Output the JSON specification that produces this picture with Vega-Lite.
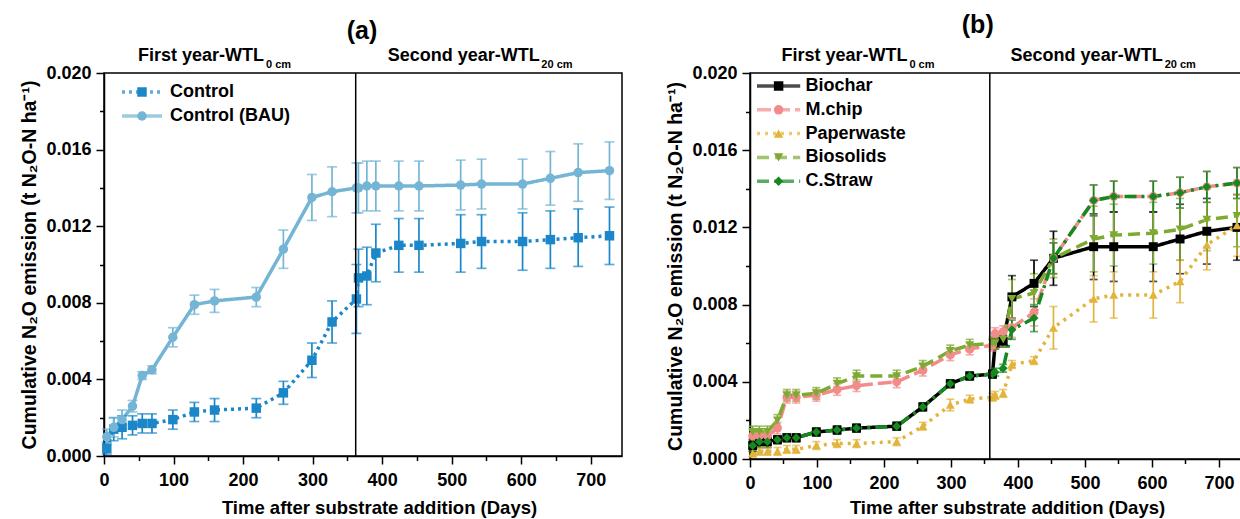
{
  "$schema": "https://vega.github.io/schema/vega-lite/v6.json",
  "padding": {"left": 19, "top": 12, "right": 0, "bottom": 0},
  "spacing": 42,
  "datasets": {
    "a": [
      {"series": "Control", "day": 4, "y": 0.0004, "err": 0.0003},
      {"series": "Control", "day": 14, "y": 0.0014, "err": 0.0006},
      {"series": "Control", "day": 26, "y": 0.0015, "err": 0.0006},
      {"series": "Control", "day": 41, "y": 0.0016, "err": 0.0005},
      {"series": "Control", "day": 55, "y": 0.0017, "err": 0.0005},
      {"series": "Control", "day": 69, "y": 0.0017, "err": 0.0005},
      {"series": "Control", "day": 99, "y": 0.0019, "err": 0.0005},
      {"series": "Control", "day": 130, "y": 0.0023, "err": 0.0005},
      {"series": "Control", "day": 159, "y": 0.0024, "err": 0.0006},
      {"series": "Control", "day": 219, "y": 0.0025, "err": 0.0005},
      {"series": "Control", "day": 258, "y": 0.0033, "err": 0.0006},
      {"series": "Control", "day": 299, "y": 0.005, "err": 0.0009},
      {"series": "Control", "day": 328, "y": 0.007, "err": 0.0011},
      {"series": "Control", "day": 363, "y": 0.0082, "err": 0.0018},
      {"series": "Control", "day": 366, "y": 0.0093, "err": 0.0015},
      {"series": "Control", "day": 378, "y": 0.0094, "err": 0.0015},
      {"series": "Control", "day": 391, "y": 0.0106, "err": 0.0015},
      {"series": "Control", "day": 424, "y": 0.011, "err": 0.0014},
      {"series": "Control", "day": 453, "y": 0.011, "err": 0.0014},
      {"series": "Control", "day": 513, "y": 0.0111, "err": 0.0015},
      {"series": "Control", "day": 543, "y": 0.0112, "err": 0.0014},
      {"series": "Control", "day": 602, "y": 0.0112, "err": 0.0015},
      {"series": "Control", "day": 642, "y": 0.0113, "err": 0.0015},
      {"series": "Control", "day": 682, "y": 0.0114, "err": 0.0015},
      {"series": "Control", "day": 727, "y": 0.0115, "err": 0.0015},
      {"series": "Control (BAU)", "day": 4, "y": 0.001, "err": 0.0004},
      {"series": "Control (BAU)", "day": 14, "y": 0.0015, "err": 0.0005},
      {"series": "Control (BAU)", "day": 26, "y": 0.0019, "err": 0.0005},
      {"series": "Control (BAU)", "day": 41, "y": 0.0026, "err": 0.0003},
      {"series": "Control (BAU)", "day": 55, "y": 0.0042, "err": 0.0002},
      {"series": "Control (BAU)", "day": 69, "y": 0.0045, "err": 0.0002},
      {"series": "Control (BAU)", "day": 99, "y": 0.0062, "err": 0.0005},
      {"series": "Control (BAU)", "day": 130, "y": 0.0079, "err": 0.0005},
      {"series": "Control (BAU)", "day": 159, "y": 0.0081, "err": 0.0006},
      {"series": "Control (BAU)", "day": 219, "y": 0.0083, "err": 0.0005},
      {"series": "Control (BAU)", "day": 258, "y": 0.0108, "err": 0.001},
      {"series": "Control (BAU)", "day": 299, "y": 0.0135, "err": 0.0012},
      {"series": "Control (BAU)", "day": 328, "y": 0.0138, "err": 0.0013},
      {"series": "Control (BAU)", "day": 363, "y": 0.014, "err": 0.0013},
      {"series": "Control (BAU)", "day": 366, "y": 0.014, "err": 0.0013},
      {"series": "Control (BAU)", "day": 378, "y": 0.0141, "err": 0.0013},
      {"series": "Control (BAU)", "day": 391, "y": 0.0141, "err": 0.0013},
      {"series": "Control (BAU)", "day": 424, "y": 0.0141, "err": 0.0013},
      {"series": "Control (BAU)", "day": 453, "y": 0.0141, "err": 0.0013},
      {"series": "Control (BAU)", "day": 513, "y": 0.01415, "err": 0.0013},
      {"series": "Control (BAU)", "day": 543, "y": 0.0142, "err": 0.0013},
      {"series": "Control (BAU)", "day": 602, "y": 0.0142, "err": 0.0013},
      {"series": "Control (BAU)", "day": 642, "y": 0.0145, "err": 0.0014},
      {"series": "Control (BAU)", "day": 682, "y": 0.0148, "err": 0.0015},
      {"series": "Control (BAU)", "day": 727, "y": 0.0149, "err": 0.0015}
    ],
    "b": [
      {"series": "Biochar", "day": 4, "y": 0.0007, "err": 0.0003},
      {"series": "Biochar", "day": 14, "y": 0.0009, "err": 0.0003},
      {"series": "Biochar", "day": 26, "y": 0.0009, "err": 0.0003},
      {"series": "Biochar", "day": 41, "y": 0.001, "err": 0.0002},
      {"series": "Biochar", "day": 55, "y": 0.0011, "err": 0.0002},
      {"series": "Biochar", "day": 69, "y": 0.0011, "err": 0.0002},
      {"series": "Biochar", "day": 99, "y": 0.0014, "err": 0.0002},
      {"series": "Biochar", "day": 130, "y": 0.0015, "err": 0.0002},
      {"series": "Biochar", "day": 159, "y": 0.0016, "err": 0.0002},
      {"series": "Biochar", "day": 219, "y": 0.0017, "err": 0.0002},
      {"series": "Biochar", "day": 258, "y": 0.0027, "err": 0.0002},
      {"series": "Biochar", "day": 299, "y": 0.0039, "err": 0.0002},
      {"series": "Biochar", "day": 328, "y": 0.0043, "err": 0.0002},
      {"series": "Biochar", "day": 362, "y": 0.0044, "err": 0.0002},
      {"series": "Biochar", "day": 366, "y": 0.006, "err": 0.0003},
      {"series": "Biochar", "day": 378, "y": 0.0061, "err": 0.0003},
      {"series": "Biochar", "day": 391, "y": 0.0084, "err": 0.0011},
      {"series": "Biochar", "day": 424, "y": 0.0091, "err": 0.0012},
      {"series": "Biochar", "day": 453, "y": 0.0104, "err": 0.0014},
      {"series": "Biochar", "day": 513, "y": 0.011, "err": 0.0017},
      {"series": "Biochar", "day": 543, "y": 0.011, "err": 0.0018},
      {"series": "Biochar", "day": 602, "y": 0.011, "err": 0.0018},
      {"series": "Biochar", "day": 642, "y": 0.0114, "err": 0.0018},
      {"series": "Biochar", "day": 682, "y": 0.0118, "err": 0.0017},
      {"series": "Biochar", "day": 727, "y": 0.012, "err": 0.0017},
      {"series": "M.chip", "day": 4, "y": 0.0012, "err": 0.0003},
      {"series": "M.chip", "day": 14, "y": 0.0012, "err": 0.0003},
      {"series": "M.chip", "day": 26, "y": 0.0012, "err": 0.0003},
      {"series": "M.chip", "day": 41, "y": 0.0016, "err": 0.0003},
      {"series": "M.chip", "day": 55, "y": 0.0032, "err": 0.0003},
      {"series": "M.chip", "day": 69, "y": 0.0032, "err": 0.0003},
      {"series": "M.chip", "day": 99, "y": 0.0033, "err": 0.0003},
      {"series": "M.chip", "day": 130, "y": 0.0036, "err": 0.0003},
      {"series": "M.chip", "day": 159, "y": 0.0038, "err": 0.0003},
      {"series": "M.chip", "day": 219, "y": 0.004, "err": 0.0003},
      {"series": "M.chip", "day": 258, "y": 0.0046, "err": 0.0003},
      {"series": "M.chip", "day": 299, "y": 0.0054, "err": 0.0003},
      {"series": "M.chip", "day": 328, "y": 0.0057, "err": 0.0003},
      {"series": "M.chip", "day": 362, "y": 0.0059, "err": 0.0003},
      {"series": "M.chip", "day": 366, "y": 0.0065, "err": 0.0003},
      {"series": "M.chip", "day": 378, "y": 0.0066, "err": 0.0003},
      {"series": "M.chip", "day": 391, "y": 0.0068, "err": 0.0005},
      {"series": "M.chip", "day": 424, "y": 0.0076, "err": 0.0007},
      {"series": "M.chip", "day": 453, "y": 0.0104, "err": 0.0008},
      {"series": "M.chip", "day": 513, "y": 0.0134, "err": 0.0008},
      {"series": "M.chip", "day": 543, "y": 0.0136, "err": 0.0008},
      {"series": "M.chip", "day": 602, "y": 0.0136, "err": 0.0008},
      {"series": "M.chip", "day": 642, "y": 0.0138, "err": 0.0008},
      {"series": "M.chip", "day": 682, "y": 0.0141, "err": 0.0008},
      {"series": "M.chip", "day": 727, "y": 0.0143, "err": 0.0008},
      {"series": "Paperwaste", "day": 4, "y": 0.0003, "err": 0.0002},
      {"series": "Paperwaste", "day": 14, "y": 0.0004, "err": 0.0002},
      {"series": "Paperwaste", "day": 26, "y": 0.0004, "err": 0.0002},
      {"series": "Paperwaste", "day": 41, "y": 0.0004, "err": 0.0002},
      {"series": "Paperwaste", "day": 55, "y": 0.0005, "err": 0.0002},
      {"series": "Paperwaste", "day": 69, "y": 0.0005, "err": 0.0002},
      {"series": "Paperwaste", "day": 99, "y": 0.0007, "err": 0.0002},
      {"series": "Paperwaste", "day": 130, "y": 0.0008, "err": 0.0002},
      {"series": "Paperwaste", "day": 159, "y": 0.0008, "err": 0.0002},
      {"series": "Paperwaste", "day": 219, "y": 0.0009, "err": 0.0002},
      {"series": "Paperwaste", "day": 258, "y": 0.0017, "err": 0.0002},
      {"series": "Paperwaste", "day": 299, "y": 0.0028, "err": 0.0003},
      {"series": "Paperwaste", "day": 328, "y": 0.0031, "err": 0.0002},
      {"series": "Paperwaste", "day": 362, "y": 0.0032, "err": 0.0002},
      {"series": "Paperwaste", "day": 366, "y": 0.0033, "err": 0.0002},
      {"series": "Paperwaste", "day": 378, "y": 0.0034, "err": 0.0002},
      {"series": "Paperwaste", "day": 391, "y": 0.0049, "err": 0.0002},
      {"series": "Paperwaste", "day": 424, "y": 0.0051, "err": 0.0002},
      {"series": "Paperwaste", "day": 453, "y": 0.0068, "err": 0.0011},
      {"series": "Paperwaste", "day": 513, "y": 0.0083, "err": 0.0012},
      {"series": "Paperwaste", "day": 543, "y": 0.0085, "err": 0.0012},
      {"series": "Paperwaste", "day": 602, "y": 0.0085, "err": 0.0012},
      {"series": "Paperwaste", "day": 642, "y": 0.0092, "err": 0.0011},
      {"series": "Paperwaste", "day": 682, "y": 0.0111, "err": 0.0013},
      {"series": "Paperwaste", "day": 727, "y": 0.0121, "err": 0.0016},
      {"series": "Biosolids", "day": 4, "y": 0.0014, "err": 0.0003},
      {"series": "Biosolids", "day": 14, "y": 0.0014, "err": 0.0003},
      {"series": "Biosolids", "day": 26, "y": 0.0014, "err": 0.0003},
      {"series": "Biosolids", "day": 41, "y": 0.002, "err": 0.0003},
      {"series": "Biosolids", "day": 55, "y": 0.0033, "err": 0.0003},
      {"series": "Biosolids", "day": 69, "y": 0.0033, "err": 0.0003},
      {"series": "Biosolids", "day": 99, "y": 0.0034, "err": 0.0003},
      {"series": "Biosolids", "day": 130, "y": 0.0039, "err": 0.0003},
      {"series": "Biosolids", "day": 159, "y": 0.0043, "err": 0.0003},
      {"series": "Biosolids", "day": 219, "y": 0.0043, "err": 0.0003},
      {"series": "Biosolids", "day": 258, "y": 0.0048, "err": 0.0003},
      {"series": "Biosolids", "day": 299, "y": 0.0056, "err": 0.0003},
      {"series": "Biosolids", "day": 328, "y": 0.0059, "err": 0.0003},
      {"series": "Biosolids", "day": 362, "y": 0.006, "err": 0.0003},
      {"series": "Biosolids", "day": 366, "y": 0.006, "err": 0.0003},
      {"series": "Biosolids", "day": 378, "y": 0.0062, "err": 0.0004},
      {"series": "Biosolids", "day": 391, "y": 0.0083, "err": 0.001},
      {"series": "Biosolids", "day": 424, "y": 0.0086, "err": 0.001},
      {"series": "Biosolids", "day": 453, "y": 0.0104, "err": 0.001},
      {"series": "Biosolids", "day": 513, "y": 0.0114, "err": 0.0017},
      {"series": "Biosolids", "day": 543, "y": 0.0116, "err": 0.0016},
      {"series": "Biosolids", "day": 602, "y": 0.0117, "err": 0.0016},
      {"series": "Biosolids", "day": 642, "y": 0.0119, "err": 0.0016},
      {"series": "Biosolids", "day": 682, "y": 0.0124, "err": 0.0016},
      {"series": "Biosolids", "day": 727, "y": 0.0126, "err": 0.0016},
      {"series": "C.Straw", "day": 4, "y": 0.0007, "err": 0.0003},
      {"series": "C.Straw", "day": 14, "y": 0.0009, "err": 0.0003},
      {"series": "C.Straw", "day": 26, "y": 0.0009, "err": 0.0003},
      {"series": "C.Straw", "day": 41, "y": 0.001, "err": 0.0002},
      {"series": "C.Straw", "day": 55, "y": 0.0011, "err": 0.0002},
      {"series": "C.Straw", "day": 69, "y": 0.0011, "err": 0.0002},
      {"series": "C.Straw", "day": 99, "y": 0.0014, "err": 0.0002},
      {"series": "C.Straw", "day": 130, "y": 0.0015, "err": 0.0002},
      {"series": "C.Straw", "day": 159, "y": 0.0016, "err": 0.0002},
      {"series": "C.Straw", "day": 219, "y": 0.0017, "err": 0.0002},
      {"series": "C.Straw", "day": 258, "y": 0.0027, "err": 0.0002},
      {"series": "C.Straw", "day": 299, "y": 0.0039, "err": 0.0002},
      {"series": "C.Straw", "day": 328, "y": 0.0043, "err": 0.0002},
      {"series": "C.Straw", "day": 362, "y": 0.0044, "err": 0.0002},
      {"series": "C.Straw", "day": 366, "y": 0.0045, "err": 0.0002},
      {"series": "C.Straw", "day": 378, "y": 0.0047, "err": 0.0002},
      {"series": "C.Straw", "day": 391, "y": 0.0067, "err": 0.0005},
      {"series": "C.Straw", "day": 424, "y": 0.0073, "err": 0.0007},
      {"series": "C.Straw", "day": 453, "y": 0.0104, "err": 0.0008},
      {"series": "C.Straw", "day": 513, "y": 0.0134, "err": 0.0008},
      {"series": "C.Straw", "day": 543, "y": 0.0136, "err": 0.0008},
      {"series": "C.Straw", "day": 602, "y": 0.0136, "err": 0.0008},
      {"series": "C.Straw", "day": 642, "y": 0.0138, "err": 0.0008},
      {"series": "C.Straw", "day": 682, "y": 0.0141, "err": 0.0008},
      {"series": "C.Straw", "day": 727, "y": 0.0143, "err": 0.0008}
    ]
  },
  "resolve": {
    "scale": {"color": "independent", "fill": "independent", "shape": "independent", "strokeDash": "independent"},
    "legend": {"color": "independent", "fill": "independent", "shape": "independent", "strokeDash": "independent"}
  },
  "hconcat": [
    {
      "width": 518,
      "height": 383,
      "data": {"name": "a"},
      "resolve": {"axis": {"x": "independent", "y": "independent"}},
      "layer": [
        {
          "mark": {"type": "line", "strokeWidth": 3.5},
          "encoding": {
            "x": {"field": "day", "type": "quantitative", "title": "Time after substrate addition (Days)", "scale": {"domain": [0, 745], "nice": false, "zero": false},
                  "axis": {"orient": "bottom", "values": [0, 100, 200, 300, 400, 500, 600, 700], "labelPadding": 7, "titlePadding": 9, "titleX": 275}},
            "y": {"field": "y", "type": "quantitative", "title": "Cumulative N₂O emission (t N₂O-N ha⁻¹)", "scale": {"domain": [0, 0.02], "nice": false},
                  "axis": {"orient": "left", "values": [0, 0.004, 0.008, 0.012, 0.016, 0.02], "format": ".3f"}},
            "color": {"field": "series", "type": "nominal",
                      "scale": {"domain": ["Control", "Control (BAU)"], "range": ["#1b87c9", "#74b5d5"]},
                      "legend": {"title": null, "orient": "none", "legendX": 18, "legendY": 10, "direction": "vertical", "padding": 0,
                                 "symbolType": "M-5,0H5", "symbolSize": 64, "symbolStrokeWidth": 3.5, "symbolOffset": 11,
                                 "labelOffset": 19, "labelFontSize": 18, "labelFontWeight": "bold", "labelColor": "black", "rowPadding": 6}},
            "strokeDash": {"field": "series", "type": "nominal",
                           "scale": {"domain": ["Control", "Control (BAU)"], "range": [[3, 4], [1, 0]]},
                           "legend": {"title": null, "orient": "none", "legendX": 18, "legendY": 10, "direction": "vertical", "padding": 0,
                                      "symbolType": "M-5,0H5", "symbolSize": 64, "symbolStrokeWidth": 3.5, "symbolOffset": 11,
                                      "labelOffset": 19, "labelFontSize": 18, "labelFontWeight": "bold", "labelColor": "black", "rowPadding": 6}}
          }
        },
        {
          "mark": {"type": "errorbar", "ticks": true, "size": 10, "thickness": 1.7},
          "encoding": {
            "x": {"field": "day", "type": "quantitative", "axis": null},
            "y": {"field": "y", "type": "quantitative", "axis": null},
            "yError": {"field": "err"},
            "color": {"field": "series", "type": "nominal"}
          }
        },
        {
          "mark": {"type": "point", "filled": true, "opacity": 1, "size": 90},
          "encoding": {
            "x": {"field": "day", "type": "quantitative", "axis": null},
            "y": {"field": "y", "type": "quantitative", "axis": null},
            "fill": {"field": "series", "type": "nominal", "sort": null,
                     "scale": {"range": ["#1b87c9", "#74b5d5"]},
                     "legend": {"title": null, "orient": "none", "legendX": 18, "legendY": 10, "direction": "vertical", "padding": 0,
                                "symbolSize": 90, "symbolStrokeWidth": 0, "symbolOffset": 11, "labelOffset": 19, "labelOpacity": 0,
                                "labelFontSize": 18, "labelFontWeight": "bold", "rowPadding": 6}},
            "shape": {"field": "series", "type": "nominal", "sort": null,
                      "scale": {"range": ["square", "circle"]},
                      "legend": {"title": null, "orient": "none", "legendX": 18, "legendY": 10, "direction": "vertical", "padding": 0,
                                 "symbolSize": 90, "symbolStrokeWidth": 0, "symbolOffset": 11, "labelOffset": 19, "labelOpacity": 0,
                                 "labelFontSize": 18, "labelFontWeight": "bold", "rowPadding": 6}}
          }
        },
        {"data": {"values": [{}]}, "mark": {"type": "rule", "color": "black", "strokeWidth": 1.5}, "encoding": {"x": {"datum": 362, "axis": null}}},
        {"data": {"values": [{}]}, "mark": {"type": "text", "text": "(a)", "fontSize": 25, "align": "center", "baseline": "alphabetic"},
         "encoding": {
           "x": {"datum": 371, "type": "quantitative", "axis": {"orient": "bottom", "values": [50, 150, 250, 350, 450, 550, 650], "labels": false, "domain": false, "tickSize": 4.5, "title": null}},
           "y": {"datum": 0.02178, "type": "quantitative", "axis": {"orient": "left", "values": [0.002, 0.006, 0.01, 0.014, 0.018], "labels": false, "domain": false, "tickSize": 4.5, "title": null}}}},
        {"data": {"values": [{}]}, "mark": {"type": "text", "text": "First year-WTL", "fontSize": 18, "align": "right", "baseline": "alphabetic"},
         "encoding": {"x": {"datum": 230, "axis": null}, "y": {"datum": 0.02064, "axis": null}}},
        {"data": {"values": [{}]}, "mark": {"type": "text", "text": "0 cm", "fontSize": 11, "align": "left", "baseline": "alphabetic"},
         "encoding": {"x": {"datum": 233, "axis": null}, "y": {"datum": 0.02028, "axis": null}}},
        {"data": {"values": [{}]}, "mark": {"type": "text", "text": "Second year-WTL", "fontSize": 18, "align": "right", "baseline": "alphabetic"},
         "encoding": {"x": {"datum": 626.7, "axis": null}, "y": {"datum": 0.02064, "axis": null}}},
        {"data": {"values": [{}]}, "mark": {"type": "text", "text": "20 cm", "fontSize": 11, "align": "left", "baseline": "alphabetic"},
         "encoding": {"x": {"datum": 629, "axis": null}, "y": {"datum": 0.02028, "axis": null}}}
      ]
    },
    {
      "width": 491,
      "height": 386,
      "data": {"name": "b"},
      "resolve": {"axis": {"x": "independent", "y": "independent"}},
      "layer": [
        {
          "mark": {"type": "line", "strokeWidth": 3.5},
          "encoding": {
            "x": {"field": "day", "type": "quantitative", "title": "Time after substrate addition (Days)", "scale": {"domain": [0, 733], "nice": false, "zero": false},
                  "axis": {"orient": "bottom", "values": [0, 100, 200, 300, 400, 500, 600, 700], "labelPadding": 7, "titlePadding": 6, "titleX": 257}},
            "y": {"field": "y", "type": "quantitative", "title": "Cumulative N₂O emission (t N₂O-N ha⁻¹)", "scale": {"domain": [0, 0.02], "nice": false},
                  "axis": {"orient": "left", "values": [0, 0.004, 0.008, 0.012, 0.016, 0.02], "format": ".3f"}},
            "color": {"field": "series", "type": "nominal",
                      "scale": {"domain": ["Biochar", "M.chip", "Paperwaste", "Biosolids", "C.Straw"], "range": ["#000000", "#f38b8b", "#e3b43c", "#7dab32", "#15891f"]},
                      "legend": {"title": null, "orient": "none", "legendX": 7, "legendY": 4, "direction": "vertical", "padding": 0,
                                 "symbolType": "M-5.4,0H5.4", "symbolSize": 64, "symbolStrokeWidth": 3.5, "symbolOffset": 12.6,
                                 "labelOffset": 18, "labelFontSize": 18, "labelFontWeight": "bold", "labelColor": "black", "rowPadding": 5.8}},
            "strokeDash": {"field": "series", "type": "nominal",
                           "scale": {"domain": ["Biochar", "M.chip", "Paperwaste", "Biosolids", "C.Straw"], "range": [[1, 0], [14, 5], [3, 5], [12, 6], [12, 5, 3, 5]]},
                           "legend": {"title": null, "orient": "none", "legendX": 7, "legendY": 4, "direction": "vertical", "padding": 0,
                                      "symbolType": "M-5.4,0H5.4", "symbolSize": 64, "symbolStrokeWidth": 3.5, "symbolOffset": 12.6,
                                      "labelOffset": 18, "labelFontSize": 18, "labelFontWeight": "bold", "labelColor": "black", "rowPadding": 5.8}}
          }
        },
        {
          "mark": {"type": "errorbar", "ticks": true, "size": 8, "thickness": 1.7},
          "encoding": {
            "x": {"field": "day", "type": "quantitative", "axis": null},
            "y": {"field": "y", "type": "quantitative", "axis": null},
            "yError": {"field": "err"},
            "color": {"field": "series", "type": "nominal"}
          }
        },
        {
          "mark": {"type": "point", "filled": true, "opacity": 1, "size": 80},
          "encoding": {
            "x": {"field": "day", "type": "quantitative", "axis": null},
            "y": {"field": "y", "type": "quantitative", "axis": null},
            "fill": {"field": "series", "type": "nominal", "sort": null,
                     "scale": {"range": ["#000000", "#f38b8b", "#e3b43c", "#7dab32", "#15891f"]},
                     "legend": {"title": null, "orient": "none", "legendX": 7, "legendY": 4, "direction": "vertical", "padding": 0,
                                "symbolSize": 90, "symbolStrokeWidth": 0, "symbolOffset": 12.6, "labelOffset": 18, "labelOpacity": 0,
                                "labelFontSize": 18, "labelFontWeight": "bold", "rowPadding": 5.8}},
            "shape": {"field": "series", "type": "nominal", "sort": null,
                      "scale": {"range": ["square", "circle", "triangle-up", "triangle-down", "diamond"]},
                      "legend": {"title": null, "orient": "none", "legendX": 7, "legendY": 4, "direction": "vertical", "padding": 0,
                                 "symbolSize": 90, "symbolStrokeWidth": 0, "symbolOffset": 12.6, "labelOffset": 18, "labelOpacity": 0,
                                 "labelFontSize": 18, "labelFontWeight": "bold", "rowPadding": 5.8}}
          }
        },
        {"data": {"values": [{}]}, "mark": {"type": "rule", "color": "black", "strokeWidth": 1.5}, "encoding": {"x": {"datum": 358, "axis": null}}},
        {"data": {"values": [{}]}, "mark": {"type": "text", "text": "(b)", "fontSize": 25, "align": "center", "baseline": "alphabetic"},
         "encoding": {
           "x": {"datum": 340, "type": "quantitative", "axis": {"orient": "bottom", "values": [50, 150, 250, 350, 450, 550, 650], "labels": false, "domain": false, "tickSize": 4.5, "title": null}},
           "y": {"datum": 0.02207, "type": "quantitative", "axis": {"orient": "left", "values": [0.002, 0.006, 0.01, 0.014, 0.018], "labels": false, "domain": false, "tickSize": 4.5, "title": null}}}},
        {"data": {"values": [{}]}, "mark": {"type": "text", "text": "First year-WTL", "fontSize": 18, "align": "right", "baseline": "alphabetic"},
         "encoding": {"x": {"datum": 235, "axis": null}, "y": {"datum": 0.02064, "axis": null}}},
        {"data": {"values": [{}]}, "mark": {"type": "text", "text": "0 cm", "fontSize": 11, "align": "left", "baseline": "alphabetic"},
         "encoding": {"x": {"datum": 238, "axis": null}, "y": {"datum": 0.02027, "axis": null}}},
        {"data": {"values": [{}]}, "mark": {"type": "text", "text": "Second year-WTL", "fontSize": 18, "align": "right", "baseline": "alphabetic"},
         "encoding": {"x": {"datum": 616, "axis": null}, "y": {"datum": 0.02064, "axis": null}}},
        {"data": {"values": [{}]}, "mark": {"type": "text", "text": "20 cm", "fontSize": 11, "align": "left", "baseline": "alphabetic"},
         "encoding": {"x": {"datum": 619, "axis": null}, "y": {"datum": 0.02027, "axis": null}}}
      ]
    }
  ],
  "config": {
    "font": "Liberation Sans",
    "background": "white",
    "view": {"stroke": "black", "strokeWidth": 1.5},
    "axis": {"grid": false, "domainColor": "black", "domainWidth": 1.5, "tickColor": "black", "tickWidth": 1.5, "tickSize": 8,
             "labelFont": "Liberation Sans", "labelFontSize": 18, "labelFontWeight": "bold", "labelColor": "black", "labelPadding": 5,
             "labelFlush": false, "labelOverlap": false,
             "titleFont": "Liberation Sans", "titleFontSize": 18.5, "titleFontWeight": "bold", "titleColor": "black", "titlePadding": 6},
    "axisY": {"titleFontSize": 19.5},
    "legend": {"labelFont": "Liberation Sans"},
    "text": {"font": "Liberation Sans", "fontWeight": "bold", "color": "black"}
  }
}
